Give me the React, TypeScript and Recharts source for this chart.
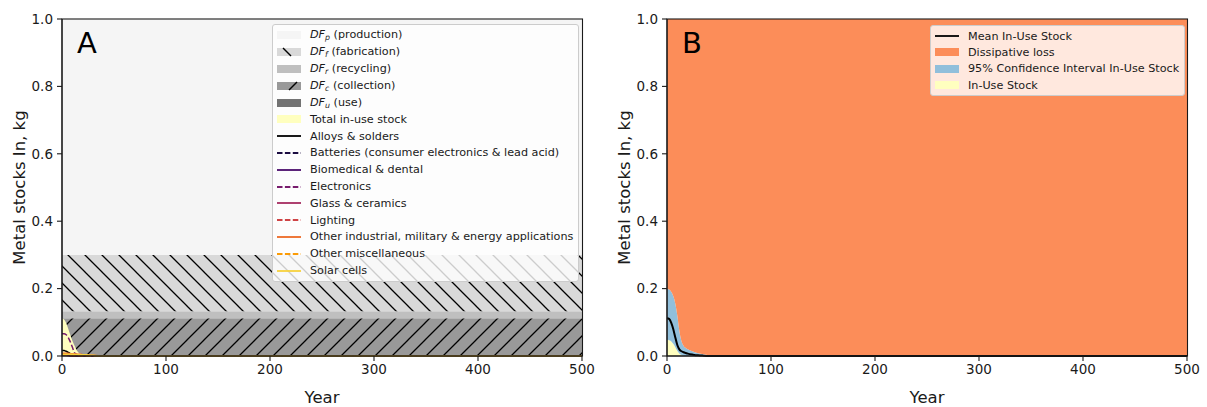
import React from "react";
import { ComposedChart, Area, Line, XAxis, YAxis, Legend } from "recharts";

const FONT = "'DejaVu Sans', sans-serif";
const INK = "#1a1a1a";

const years = [0, 2, 4, 6, 8, 10, 12, 14, 16, 18, 20, 25, 30, 35, 40, 45, 50, 100, 200, 300, 400, 500];
const xTicks = [0, 100, 200, 300, 400, 500];
const yTicks = [0, 0.2, 0.4, 0.6, 0.8, 1.0];

// panel A: in-use stock by application, kg
const totalInUse = [0.112, 0.108, 0.098, 0.081, 0.062, 0.045, 0.031, 0.018, 0.01, 0.007, 0.005, 0.004, 0.003, 0.002, 0.0005, 0, 0, 0, 0, 0, 0, 0];
const alloys = [0.016, 0.016, 0.014, 0.011, 0.007, 0.004, 0.002, 0.0005, 0, 0, 0, 0, 0, 0, 0, 0, 0, 0, 0, 0, 0, 0];
const batteries = [0.005, 0.005, 0.004, 0.003, 0.002, 0.0015, 0.001, 0.0005, 0, 0, 0, 0, 0, 0, 0, 0, 0, 0, 0, 0, 0, 0];
const biomedical = [0.003, 0.003, 0.003, 0.002, 0.001, 0.0005, 0, 0, 0, 0, 0, 0, 0, 0, 0, 0, 0, 0, 0, 0, 0, 0];
const electronics = [0.066, 0.066, 0.063, 0.055, 0.042, 0.026, 0.01, 0.003, 0.001, 0, 0, 0, 0, 0, 0, 0, 0, 0, 0, 0, 0, 0];
const glass = [0.002, 0.002, 0.002, 0.0015, 0.001, 0.0005, 0, 0, 0, 0, 0, 0, 0, 0, 0, 0, 0, 0, 0, 0, 0, 0];
const lighting = [0.002, 0.002, 0.002, 0.0015, 0.001, 0.0005, 0, 0, 0, 0, 0, 0, 0, 0, 0, 0, 0, 0, 0, 0, 0, 0];
const otherIndustrial = [0.008, 0.008, 0.008, 0.008, 0.007, 0.007, 0.006, 0.006, 0.005, 0.005, 0.004, 0.003, 0.002, 0.001, 0, 0, 0, 0, 0, 0, 0, 0];
const otherMisc = [0.004, 0.004, 0.004, 0.003, 0.003, 0.003, 0.002, 0.002, 0.002, 0.001, 0.001, 0, 0, 0, 0, 0, 0, 0, 0, 0, 0, 0];
const solarCells = [0.005, 0.005, 0.005, 0.005, 0.005, 0.005, 0.005, 0.004, 0.004, 0.004, 0.004, 0.003, 0.002, 0.001, 0.0003, 0, 0, 0, 0, 0, 0, 0];

// dissipation factor bands (share of 1 kg), bottom to top
const dfKeys = ["dfU", "dfC", "dfR", "dfF", "dfP"];
const dfShares = [0, 0.112, 0.021, 0.167, 0.7];
const dfFills = ["#737373", "url(#hatchFwd)", "#bfbfbf", "url(#hatchBack)", "#f5f5f5"];

// panel B
const ciUpper = [0.2, 0.197, 0.191, 0.178, 0.155, 0.118, 0.072, 0.043, 0.03, 0.024, 0.02, 0.013, 0.008, 0.005, 0.002, 0.001, 0, 0, 0, 0, 0, 0];
const meanStock = [0.112, 0.11, 0.099, 0.08, 0.055, 0.032, 0.019, 0.014, 0.011, 0.009, 0.007, 0.004, 0.002, 0.001, 0.0003, 0, 0, 0, 0, 0, 0, 0];
const ciLower = [0.048, 0.047, 0.044, 0.036, 0.026, 0.015, 0.007, 0.003, 0.001, 0, 0, 0, 0, 0, 0, 0, 0, 0, 0, 0, 0, 0];

const lineSeries = [
  { key: "alloys", name: "Alloys & solders", color: "#000000", dash: false, values: alloys },
  { key: "batteries", name: "Batteries (consumer electronics & lead acid)", color: "#1b0c41", dash: true, values: batteries },
  { key: "biomedical", name: "Biomedical & dental", color: "#4a0c6b", dash: false, values: biomedical },
  { key: "electronics", name: "Electronics", color: "#781c6d", dash: true, values: electronics },
  { key: "glass", name: "Glass & ceramics", color: "#a52c60", dash: false, values: glass },
  { key: "lighting", name: "Lighting", color: "#cf4446", dash: true, values: lighting },
  { key: "otherIndustrial", name: "Other industrial, military & energy applications", color: "#ed6925", dash: false, values: otherIndustrial },
  { key: "otherMisc", name: "Other miscellaneous", color: "#fb9b06", dash: true, values: otherMisc },
  { key: "solar", name: "Solar cells", color: "#f7d13d", dash: false, values: solarCells },
];

const rowsA = years.map((year, i) => {
  const row: any = { year, totalInUse: totalInUse[i] };
  dfKeys.forEach((k, j) => (row[k] = dfShares[j]));
  lineSeries.forEach((s) => (row[s.key] = s.values[i]));
  return row;
});

const rowsB = years.map((year, i) => ({
  year,
  inUse: ciLower[i],
  ci: ciUpper[i] - ciLower[i],
  loss: 1 - ciUpper[i],
  mean: meanStock[i],
}));

const DF = ({ sub }: { sub: string }) => (
  <span style={{ fontStyle: "italic" }}>
    DF<sub style={{ fontSize: "70%", verticalAlign: "-2px" }}>{sub}</sub>
  </span>
);

type LegendItem = { label: React.ReactNode; kind: "patch" | "line"; color: string; dash?: boolean; hatch?: "fwd" | "back" };

const legendA: LegendItem[] = [
  { label: <><DF sub="p" /> (production)</>, kind: "patch", color: "#f5f5f5" },
  { label: <><DF sub="f" /> (fabrication)</>, kind: "patch", color: "#d9d9d9", hatch: "back" },
  { label: <><DF sub="r" /> (recycling)</>, kind: "patch", color: "#bfbfbf" },
  { label: <><DF sub="c" /> (collection)</>, kind: "patch", color: "#999999", hatch: "fwd" },
  { label: <><DF sub="u" /> (use)</>, kind: "patch", color: "#737373" },
  { label: "Total in-use stock", kind: "patch", color: "#ffffbf" },
  ...lineSeries.map((s) => ({ label: s.name, kind: "line" as const, color: s.color, dash: s.dash })),
];

const legendB: LegendItem[] = [
  { label: "Mean In-Use Stock", kind: "line", color: "#000000" },
  { label: "Dissipative loss", kind: "patch", color: "#fc8d59" },
  { label: "95% Confidence Interval In-Use Stock", kind: "patch", color: "#91bfdb" },
  { label: "In-Use Stock", kind: "patch", color: "#ffffbf" },
];

const LegendBox = ({ items, rowH }: { items: LegendItem[]; rowH: number }) => (
  <div
    style={{
      background: "rgba(255,255,255,0.8)",
      border: "1px solid #cccccc",
      borderRadius: 3,
      padding: "2px 5px 2px 4px",
      fontFamily: FONT,
      fontSize: 11.2,
      color: INK,
      whiteSpace: "nowrap",
    }}
  >
    {items.map((it, i) => (
      <div key={i} style={{ display: "flex", alignItems: "center", height: rowH }}>
        <svg width={24} height={10} style={{ flex: "none" }}>
          {it.kind === "patch" ? (
            <>
              <rect x={0} y={1} width={24} height={8} fill={it.color} />
              {it.hatch === "back" && <line x1={6} y1={1} x2={14} y2={9} stroke="#000" strokeWidth={1.4} />}
              {it.hatch === "fwd" && <line x1={12} y1={9} x2={20} y2={1} stroke="#000" strokeWidth={1.4} />}
            </>
          ) : (
            <line x1={0} y1={5} x2={24} y2={5} stroke={it.color} strokeWidth={1.8} strokeDasharray={it.dash ? "5.5 2.4" : undefined} />
          )}
        </svg>
        <span style={{ marginLeft: 9 }}>{it.label}</span>
      </div>
    ))}
  </div>
);

const tickStyle = { fontSize: 13.5, fill: INK, fontFamily: FONT };
const axisLine = { stroke: INK, strokeWidth: 1.1 };

const axes = () => [
  <XAxis
    key="x"
    dataKey="year"
    type="number"
    domain={[0, 500]}
    ticks={xTicks}
    height={51}
    tickSize={5}
    tickMargin={3}
    tick={tickStyle}
    axisLine={axisLine}
    tickLine={axisLine}
    label={{ value: "Year", position: "insideBottom", offset: 4, fontSize: 16.5, fill: INK, fontFamily: FONT }}
  />,
  <YAxis
    key="y"
    type="number"
    domain={[0, 1]}
    ticks={yTicks}
    width={62}
    tickSize={5}
    tickMargin={4}
    tick={tickStyle}
    axisLine={axisLine}
    tickLine={axisLine}
    tickFormatter={(v: number) => v.toFixed(1)}
    label={{
      value: "Metal stocks In, kg",
      angle: -90,
      position: "insideLeft",
      offset: 19,
      fontSize: 16.5,
      fill: INK,
      fontFamily: FONT,
      style: { textAnchor: "middle" },
    }}
  />,
];

// axes frame (matplotlib spines) and panel letters
const Frame = ({ left, letter }: { left: number; letter: string }) => (
  <svg width={540} height={360} style={{ position: "absolute", left: left - 10, top: 0, pointerEvents: "none" }}>
    <rect x={10} y={19} width={520.5} height={337} fill="none" stroke={INK} strokeWidth={1.1} />
    <text x={25} y={53} fontSize={29} fontFamily={FONT} fill="#000">
      {letter}
    </text>
  </svg>
);

export default function App() {
  return (
    <div style={{ position: "absolute", left: 0, top: 0, width: 1207, height: 407, background: "#fff" }}>
      <div style={{ position: "absolute", left: 0, top: 0 }}>
        <ComposedChart width={600} height={407} data={rowsA} margin={{ top: 19, right: 18, bottom: 0, left: 0 }}>
          <defs>
            <pattern id="hatchBack" patternUnits="userSpaceOnUse" width={17} height={17}>
              <rect width={17} height={17} fill="#d9d9d9" />
              <path d="M0,0 L17,17 M-4,13 L4,21 M13,-4 L21,4" stroke="#000" strokeWidth={1.3} />
            </pattern>
            <pattern id="hatchFwd" patternUnits="userSpaceOnUse" width={17} height={17}>
              <rect width={17} height={17} fill="#999999" />
              <path d="M0,17 L17,0 M-4,4 L4,-4 M13,21 L21,13" stroke="#000" strokeWidth={1.3} />
            </pattern>
          </defs>
          {axes()}
          {dfKeys.map((k, j) => (
            <Area
              key={k}
              type="linear"
              dataKey={k}
              stackId="df"
              stroke="none"
              fill={dfFills[j]}
              fillOpacity={1}
              isAnimationActive={false}
              dot={false}
              activeDot={false}
            />
          ))}
          <Area type="monotone" dataKey="totalInUse" stroke="none" fill="#ffffbf" fillOpacity={1} isAnimationActive={false} dot={false} activeDot={false} />
          {lineSeries.map((s) => (
            <Line
              key={s.key}
              type="monotone"
              dataKey={s.key}
              stroke={s.color}
              strokeWidth={1.5}
              strokeDasharray={s.dash ? "5.5 2.4" : undefined}
              dot={false}
              activeDot={false}
              isAnimationActive={false}
            />
          ))}
          <Legend
            layout="vertical"
            align="center"
            verticalAlign="middle"
            wrapperStyle={{ top: 24, left: 272, width: "auto" }}
            content={() => <LegendBox items={legendA} rowH={16.8} />}
          />
        </ComposedChart>
      </div>
      <Frame left={62} letter="A" />
      <div style={{ position: "absolute", left: 605, top: 0 }}>
        <ComposedChart width={601} height={407} data={rowsB} margin={{ top: 19, right: 19, bottom: 0, left: 0 }}>
          {axes()}
          <Area type="monotone" dataKey="inUse" stackId="b" stroke="none" fill="#ffffbf" fillOpacity={1} isAnimationActive={false} dot={false} activeDot={false} />
          <Area type="monotone" dataKey="ci" stackId="b" stroke="none" fill="#91bfdb" fillOpacity={1} isAnimationActive={false} dot={false} activeDot={false} />
          <Area type="monotone" dataKey="loss" stackId="b" stroke="none" fill="#fc8d59" fillOpacity={1} isAnimationActive={false} dot={false} activeDot={false} />
          <Line type="monotone" dataKey="mean" stroke="#000" strokeWidth={2} dot={false} activeDot={false} isAnimationActive={false} />
          <Legend
            layout="vertical"
            align="center"
            verticalAlign="middle"
            wrapperStyle={{ top: 25, left: 325, width: "auto" }}
            content={() => <LegendBox items={legendB} rowH={16.3} />}
          />
        </ComposedChart>
      </div>
      <Frame left={667} letter="B" />
    </div>
  );
}
